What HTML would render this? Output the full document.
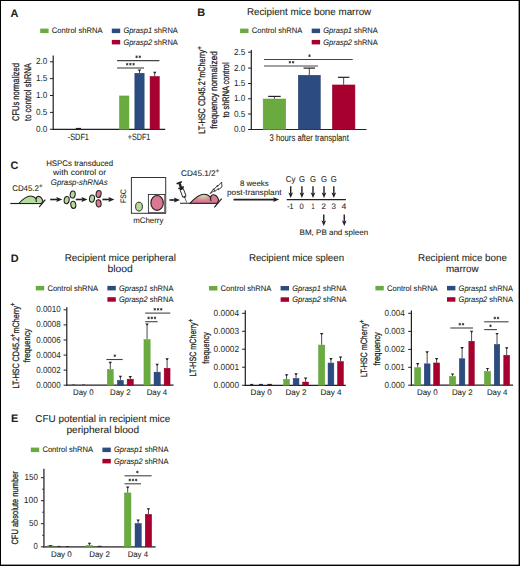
<!DOCTYPE html>
<html><head><meta charset="utf-8"><style>
html,body{margin:0;padding:0;background:#fff;}
svg{display:block;font-family:"Liberation Sans", sans-serif;text-rendering:geometricPrecision;}
text{stroke:#231f20;stroke-width:0.08px;}
.y{stroke-width:0.28px;}
.n{stroke:none;}
</style></head><body>
<svg width="520" height="566" viewBox="0 0 520 566" fill="#231f20">
<rect width="520" height="566" fill="#000"/>
<rect x="1" y="1" width="517.6" height="563.6" fill="#fff"/>
<text x="10.40" y="17.00" font-size="10.9" font-weight="bold" >A</text>
<rect x="40.20" y="28.60" width="8.40" height="4.50" fill="#6aab3f"/>
<text x="51.80" y="33.20" font-size="8.0" textLength="50.70" lengthAdjust="spacingAndGlyphs" >Control shRNA</text>
<rect x="111.80" y="28.60" width="8.40" height="4.50" fill="#2c4b80"/>
<text x="123.40" y="33.20" font-size="8.0" textLength="54.40" lengthAdjust="spacingAndGlyphs" ><tspan font-style="italic">Gprasp1</tspan> shRNA</text>
<rect x="111.80" y="39.90" width="8.40" height="4.50" fill="#a8002e"/>
<text x="123.40" y="44.50" font-size="8.0" textLength="54.40" lengthAdjust="spacingAndGlyphs" ><tspan font-style="italic">Gprasp2</tspan> shRNA</text>
<line x1="53.20" y1="55.40" x2="53.20" y2="129.90" stroke="#231f20" stroke-width="1.2"/>
<line x1="52.60" y1="129.30" x2="165.20" y2="129.30" stroke="#231f20" stroke-width="1.2"/>
<line x1="50.00" y1="61.80" x2="53.20" y2="61.80" stroke="#231f20" stroke-width="1.0"/>
<text x="47.40" y="64.35" font-size="8.8" text-anchor="end" textLength="11.40" lengthAdjust="spacingAndGlyphs" class="n">2.0</text>
<line x1="50.00" y1="78.60" x2="53.20" y2="78.60" stroke="#231f20" stroke-width="1.0"/>
<text x="47.40" y="81.15" font-size="8.8" text-anchor="end" textLength="11.40" lengthAdjust="spacingAndGlyphs" class="n">1.5</text>
<line x1="50.00" y1="95.50" x2="53.20" y2="95.50" stroke="#231f20" stroke-width="1.0"/>
<text x="47.40" y="98.05" font-size="8.8" text-anchor="end" textLength="11.40" lengthAdjust="spacingAndGlyphs" class="n">1.0</text>
<line x1="50.00" y1="112.40" x2="53.20" y2="112.40" stroke="#231f20" stroke-width="1.0"/>
<text x="47.40" y="114.95" font-size="8.8" text-anchor="end" textLength="11.40" lengthAdjust="spacingAndGlyphs" class="n">0.5</text>
<line x1="50.00" y1="129.30" x2="53.20" y2="129.30" stroke="#231f20" stroke-width="1.0"/>
<text x="47.40" y="131.85" font-size="8.8" text-anchor="end" textLength="11.40" lengthAdjust="spacingAndGlyphs" class="n">0.0</text>
<text x="18.70" y="92.00" font-size="9.7" text-anchor="middle" textLength="57.80" lengthAdjust="spacingAndGlyphs" transform="rotate(-90 18.70 92.00)" class="y">CFUs normalized</text>
<text x="30.80" y="92.00" font-size="9.7" text-anchor="middle" textLength="58.00" lengthAdjust="spacingAndGlyphs" transform="rotate(-90 30.80 92.00)" class="y">to control shRNA</text>
<rect x="119.45" y="95.95" width="9.50" height="33.35" fill="#6aab3f" stroke="#5f9e36" stroke-width="0.5"/>
<line x1="139.50" y1="70.10" x2="139.50" y2="73.00" stroke="#4a4a4a" stroke-width="1.0"/>
<path d="M137.80,69.50 L141.20,69.50 L140.00,71.20 L139.00,71.20 Z" fill="#231f20"/>
<rect x="134.85" y="73.25" width="9.30" height="56.05" fill="#2c4b80" stroke="#223f72" stroke-width="0.5"/>
<line x1="154.70" y1="72.40" x2="154.70" y2="76.20" stroke="#4a4a4a" stroke-width="1.0"/>
<path d="M153.00,71.80 L156.40,71.80 L155.20,73.50 L154.20,73.50 Z" fill="#231f20"/>
<rect x="150.05" y="76.45" width="9.30" height="52.85" fill="#a8002e" stroke="#960029" stroke-width="0.5"/>
<rect x="75.80" y="127.90" width="5.20" height="1.40" fill="#231f20"/>
<line x1="117.10" y1="60.60" x2="159.40" y2="60.60" stroke="#444" stroke-width="1.1"/>
<path d="M136.60,55.50L136.60,58.10M135.47,56.15L137.73,57.45M137.73,56.15L135.47,57.45" stroke="#2a2a2a" stroke-width="0.8" fill="none"/>
<path d="M139.80,55.50L139.80,58.10M138.67,56.15L140.93,57.45M140.93,56.15L138.67,57.45" stroke="#2a2a2a" stroke-width="0.8" fill="none"/>
<line x1="117.10" y1="68.00" x2="144.00" y2="68.00" stroke="#444" stroke-width="1.1"/>
<path d="M127.20,62.90L127.20,65.50M126.07,63.55L128.33,64.85M128.33,63.55L126.07,64.85" stroke="#2a2a2a" stroke-width="0.8" fill="none"/>
<path d="M130.40,62.90L130.40,65.50M129.27,63.55L131.53,64.85M131.53,63.55L129.27,64.85" stroke="#2a2a2a" stroke-width="0.8" fill="none"/>
<path d="M133.60,62.90L133.60,65.50M132.47,63.55L134.73,64.85M134.73,63.55L132.47,64.85" stroke="#2a2a2a" stroke-width="0.8" fill="none"/>
<text x="67.75" y="139.70" font-size="9.2" textLength="21.20" lengthAdjust="spacingAndGlyphs" >-SDF1</text>
<text x="127.70" y="139.70" font-size="9.2" textLength="22.70" lengthAdjust="spacingAndGlyphs" >+SDF1</text>
<text x="197.30" y="15.80" font-size="10.9" font-weight="bold" >B</text>
<text x="246.90" y="14.90" font-size="9.9" textLength="124.30" lengthAdjust="spacingAndGlyphs" >Recipient mice bone marrow</text>
<rect x="240.10" y="28.60" width="8.40" height="4.50" fill="#6aab3f"/>
<text x="251.70" y="33.20" font-size="8.0" textLength="50.70" lengthAdjust="spacingAndGlyphs" >Control shRNA</text>
<rect x="311.70" y="28.60" width="8.40" height="4.50" fill="#2c4b80"/>
<text x="323.30" y="33.20" font-size="8.0" textLength="54.40" lengthAdjust="spacingAndGlyphs" ><tspan font-style="italic">Gprasp1</tspan> shRNA</text>
<rect x="311.70" y="39.90" width="8.40" height="4.50" fill="#a8002e"/>
<text x="323.30" y="44.50" font-size="8.0" textLength="54.40" lengthAdjust="spacingAndGlyphs" ><tspan font-style="italic">Gprasp2</tspan> shRNA</text>
<line x1="251.30" y1="50.10" x2="251.30" y2="130.10" stroke="#231f20" stroke-width="1.2"/>
<line x1="250.70" y1="129.50" x2="366.50" y2="129.50" stroke="#231f20" stroke-width="1.2"/>
<line x1="248.10" y1="52.20" x2="251.30" y2="52.20" stroke="#231f20" stroke-width="1.0"/>
<text x="245.40" y="54.75" font-size="8.8" text-anchor="end" textLength="11.40" lengthAdjust="spacingAndGlyphs" class="n">2.5</text>
<line x1="248.10" y1="68.10" x2="251.30" y2="68.10" stroke="#231f20" stroke-width="1.0"/>
<text x="245.40" y="70.65" font-size="8.8" text-anchor="end" textLength="11.40" lengthAdjust="spacingAndGlyphs" class="n">2.0</text>
<line x1="248.10" y1="83.50" x2="251.30" y2="83.50" stroke="#231f20" stroke-width="1.0"/>
<text x="245.40" y="86.05" font-size="8.8" text-anchor="end" textLength="11.40" lengthAdjust="spacingAndGlyphs" class="n">1.5</text>
<line x1="248.10" y1="98.75" x2="251.30" y2="98.75" stroke="#231f20" stroke-width="1.0"/>
<text x="245.40" y="101.30" font-size="8.8" text-anchor="end" textLength="11.40" lengthAdjust="spacingAndGlyphs" class="n">1.0</text>
<line x1="248.10" y1="114.00" x2="251.30" y2="114.00" stroke="#231f20" stroke-width="1.0"/>
<text x="245.40" y="116.55" font-size="8.8" text-anchor="end" textLength="11.40" lengthAdjust="spacingAndGlyphs" class="n">0.5</text>
<line x1="248.10" y1="129.50" x2="251.30" y2="129.50" stroke="#231f20" stroke-width="1.0"/>
<text x="245.40" y="132.05" font-size="8.8" text-anchor="end" textLength="11.40" lengthAdjust="spacingAndGlyphs" class="n">0.0</text>
<text x="205.00" y="90.00" font-size="9.5" text-anchor="middle" textLength="87.30" lengthAdjust="spacingAndGlyphs" transform="rotate(-90 205.00 90.00)" class="y">LT-HSC CD45.2<tspan font-size="7.6" dy="-3.4">+</tspan><tspan dy="3.4">mCherry</tspan><tspan font-size="7.6" dy="-3.4">+</tspan></text>
<text x="216.70" y="90.00" font-size="9.5" text-anchor="middle" textLength="77.30" lengthAdjust="spacingAndGlyphs" transform="rotate(-90 216.70 90.00)" class="y">frequency normalized</text>
<text x="228.80" y="90.00" font-size="9.5" text-anchor="middle" textLength="55.20" lengthAdjust="spacingAndGlyphs" transform="rotate(-90 228.80 90.00)" class="y">to shRNA control</text>
<line x1="274.45" y1="96.40" x2="274.45" y2="98.75" stroke="#4a4a4a" stroke-width="1.0"/>
<line x1="268.20" y1="96.40" x2="280.70" y2="96.40" stroke="#231f20" stroke-width="1.2"/>
<rect x="263.15" y="99.00" width="22.60" height="30.50" fill="#6aab3f" stroke="#5f9e36" stroke-width="0.5"/>
<line x1="309.30" y1="68.10" x2="309.30" y2="75.00" stroke="#4a4a4a" stroke-width="1.0"/>
<line x1="303.55" y1="68.10" x2="315.05" y2="68.10" stroke="#231f20" stroke-width="1.2"/>
<rect x="298.25" y="75.25" width="22.10" height="54.25" fill="#2c4b80" stroke="#223f72" stroke-width="0.5"/>
<line x1="343.65" y1="77.30" x2="343.65" y2="84.70" stroke="#4a4a4a" stroke-width="1.0"/>
<line x1="337.90" y1="77.30" x2="349.40" y2="77.30" stroke="#231f20" stroke-width="1.2"/>
<rect x="332.35" y="84.95" width="22.60" height="44.55" fill="#a8002e" stroke="#960029" stroke-width="0.5"/>
<line x1="264.00" y1="59.50" x2="352.70" y2="59.50" stroke="#444" stroke-width="1.1"/>
<path d="M309.50,54.40L309.50,57.00M308.37,55.05L310.63,56.35M310.63,55.05L308.37,56.35" stroke="#2a2a2a" stroke-width="0.8" fill="none"/>
<line x1="264.00" y1="66.00" x2="318.00" y2="66.00" stroke="#444" stroke-width="1.1"/>
<path d="M289.90,60.90L289.90,63.50M288.77,61.55L291.03,62.85M291.03,61.55L288.77,62.85" stroke="#2a2a2a" stroke-width="0.8" fill="none"/>
<path d="M293.10,60.90L293.10,63.50M291.97,61.55L294.23,62.85M294.23,61.55L291.97,62.85" stroke="#2a2a2a" stroke-width="0.8" fill="none"/>
<text x="269.60" y="140.80" font-size="9.8" textLength="79.20" lengthAdjust="spacingAndGlyphs" >3 hours after transplant</text>
<text x="10.40" y="168.60" font-size="10.9" font-weight="bold" >C</text>
<text x="46.20" y="165.80" font-size="8.1" textLength="66.90" lengthAdjust="spacingAndGlyphs" >HSPCs transduced</text>
<text x="53.10" y="175.10" font-size="8.1" textLength="53.10" lengthAdjust="spacingAndGlyphs" >with control or</text>
<text x="50.80" y="184.60" font-size="8.1" textLength="56.90" lengthAdjust="spacingAndGlyphs" ><tspan font-style="italic">Gprasp-shRNAs</tspan></text>
<text x="12.20" y="191.30" font-size="8.1" textLength="30.40" lengthAdjust="spacingAndGlyphs" >CD45.2<tspan font-size="6.4" dy="-3.2">+</tspan></text>
<g transform="translate(18.8 203.5) scale(0.84)"><line x1="-10.1" y1="0" x2="27.2" y2="0" stroke="#231f20" stroke-width="1.37"/><path d="M0,0 C4,-4.5 9,-9 14.2,-9 C17.2,-9 19.2,-7.4 20.6,-5.8 C20.9,-7.8 22.2,-8.6 23.5,-8.5 C25.3,-8.3 26.6,-7.4 27.2,-6.2 L28.6,-3.3 L27.2,0 Z" fill="#b5dc9e" stroke="#231f20" stroke-width="1.31" stroke-linejoin="round"/><path d="M20.6,-5.8 C20.4,-4.6 20.5,-3.4 20.9,-2.4" fill="none" stroke="#231f20" stroke-width="1.31" stroke-linecap="round"/><line x1="24.2" y1="4.2" x2="31.6" y2="-4.6" stroke="#231f20" stroke-width="1.43"/></g>
<line x1="50.20" y1="199.50" x2="57.30" y2="199.50" stroke="#231f20" stroke-width="1.6"/>
<path d="M62.30,199.50 L56.30,197.00 L57.20,199.50 L56.30,202.00 Z" fill="#231f20"/>
<ellipse cx="66.7" cy="200.1" rx="2.5" ry="3.6" fill="#b5dc9e" stroke="#231f20" stroke-width="1.05" transform="rotate(8 66.7 200.1)"/>
<ellipse cx="72.7" cy="194.5" rx="2.5" ry="3.6" fill="#b5dc9e" stroke="#231f20" stroke-width="1.05" transform="rotate(8 72.7 194.5)"/>
<ellipse cx="73.3" cy="204.8" rx="2.5" ry="3.6" fill="#b5dc9e" stroke="#231f20" stroke-width="1.05" transform="rotate(-8 73.3 204.8)"/>
<line x1="75.80" y1="199.50" x2="82.50" y2="199.50" stroke="#231f20" stroke-width="1.6"/>
<path d="M87.50,199.50 L81.50,197.00 L82.40,199.50 L81.50,202.00 Z" fill="#231f20"/>
<ellipse cx="92" cy="198.6" rx="2.5" ry="3.6" fill="#b5dc9e" stroke="#231f20" stroke-width="1.05" transform="rotate(8 92 198.6)"/>
<ellipse cx="98.6" cy="194" rx="2.5" ry="3.6" fill="#d97890" stroke="#231f20" stroke-width="1.05" transform="rotate(8 98.6 194)"/>
<ellipse cx="98.6" cy="203.4" rx="2.5" ry="3.6" fill="#d97890" stroke="#231f20" stroke-width="1.05" transform="rotate(-8 98.6 203.4)"/>
<line x1="102.40" y1="199.50" x2="109.40" y2="199.50" stroke="#231f20" stroke-width="1.6"/>
<path d="M114.40,199.50 L108.40,197.00 L109.30,199.50 L108.40,202.00 Z" fill="#231f20"/>
<text x="126.40" y="196.10" font-size="8.0" text-anchor="middle" textLength="13.60" lengthAdjust="spacingAndGlyphs" transform="rotate(-90 126.40 196.10)" >FSC</text>
<rect x="131.4" y="177.5" width="34.3" height="35.8" fill="#fff" stroke="#333" stroke-width="1"/>
<rect x="148.4" y="194.5" width="16.4" height="18.2" fill="#fff" stroke="#333" stroke-width="0.9"/>
<line x1="164.9" y1="195" x2="164.9" y2="213" stroke="#888" stroke-width="1"/>
<ellipse cx="157.1" cy="202.9" rx="6.2" ry="7.4" fill="#d97890" stroke="#231f20" stroke-width="1.15"/>
<ellipse cx="139" cy="206.6" rx="3.4" ry="4.4" fill="#b5dc9e" stroke="#231f20" stroke-width="0.95"/>
<text x="133.20" y="223.20" font-size="8.0" textLength="30.20" lengthAdjust="spacingAndGlyphs" >mCherry</text>
<line x1="169.40" y1="200.00" x2="175.00" y2="200.00" stroke="#231f20" stroke-width="1.6"/>
<path d="M180.00,200.00 L174.00,197.50 L174.90,200.00 L174.00,202.50 Z" fill="#231f20"/>
<text x="181.00" y="176.00" font-size="8.1" textLength="38.40" lengthAdjust="spacingAndGlyphs" >CD45.1/2<tspan font-size="6.4" dy="-3.2">+</tspan></text>
<g transform="translate(186.7 202.6) rotate(-20.6)"><line x1="0" y1="0" x2="0" y2="-5.4" stroke="#555" stroke-width="0.8"/><rect x="-0.9" y="-6.6" width="1.8" height="1.4" fill="#231f20"/><rect x="-1.75" y="-14.4" width="3.5" height="8" rx="0.6" fill="#fff" stroke="#231f20" stroke-width="0.9"/><rect x="-1.6" y="-16.2" width="3.2" height="2.2" fill="#231f20"/><rect x="-2.9" y="-16.6" width="5.8" height="1.5" fill="#231f20"/><rect x="-1.2" y="-20.8" width="2.4" height="4.4" fill="#231f20"/><rect x="-2.8" y="-22.0" width="5.6" height="1.6" fill="#231f20"/></g>
<defs><radialGradient id="mg" gradientUnits="userSpaceOnUse" cx="12.6" cy="-11" r="9.5" gradientTransform="translate(12.6 -11) scale(1.35 1) translate(-12.6 11)"><stop offset="0" stop-color="#c6dca4"/><stop offset="0.4" stop-color="#cfd3a2"/><stop offset="0.62" stop-color="#dbaea6"/><stop offset="0.85" stop-color="#d98699"/><stop offset="1" stop-color="#d77b92"/></radialGradient></defs>
<g transform="translate(190.1 203.2) scale(1.0)"><line x1="-10.1" y1="0" x2="27.2" y2="0" stroke="#231f20" stroke-width="1.15"/><path d="M0,0 C4,-4.5 9,-9 14.2,-9 C17.2,-9 19.2,-7.4 20.6,-5.8 C20.9,-7.8 22.2,-8.6 23.5,-8.5 C25.3,-8.3 26.6,-7.4 27.2,-6.2 L28.6,-3.3 L27.2,0 Z" fill="url(#mg)" stroke="#231f20" stroke-width="1.10" stroke-linejoin="round"/><path d="M20.6,-5.8 C20.4,-4.6 20.5,-3.4 20.9,-2.4" fill="none" stroke="#231f20" stroke-width="1.10" stroke-linecap="round"/><line x1="24.2" y1="4.2" x2="31.6" y2="-4.6" stroke="#231f20" stroke-width="1.20"/></g>
<path d="M210.2,193.6 L213.8,188.6 L213.6,190.0 L217.6,185.2 L217.4,186.6 L221.6,182.1 L222,186.8 L218.3,189.8 L218.5,188.4 L214.6,191.6 L214.9,190.2 Z" fill="#fff" stroke="#231f20" stroke-width="0.85" stroke-linejoin="round"/>
<text x="239.90" y="185.80" font-size="8.0" textLength="28.80" lengthAdjust="spacingAndGlyphs" >8 weeks</text>
<text x="227.00" y="194.60" font-size="8.0" textLength="54.60" lengthAdjust="spacingAndGlyphs" >post-transplant</text>
<line x1="233.50" y1="199.60" x2="274.20" y2="199.60" stroke="#231f20" stroke-width="1.6"/>
<path d="M279.20,199.60 L273.20,197.20 L274.10,199.60 L273.20,202.00 Z" fill="#231f20"/>
<line x1="286.70" y1="199.60" x2="345.90" y2="199.60" stroke="#231f20" stroke-width="1.1"/>
<text x="285.80" y="181.50" font-size="8.5" textLength="9.70" lengthAdjust="spacingAndGlyphs" >Cy</text>
<text x="301.90" y="181.50" font-size="8.5" text-anchor="middle" textLength="6.00" lengthAdjust="spacingAndGlyphs" >G</text>
<text x="313.00" y="181.50" font-size="8.5" text-anchor="middle" textLength="6.00" lengthAdjust="spacingAndGlyphs" >G</text>
<text x="324.00" y="181.50" font-size="8.5" text-anchor="middle" textLength="6.00" lengthAdjust="spacingAndGlyphs" >G</text>
<text x="333.80" y="181.50" font-size="8.5" text-anchor="middle" textLength="6.00" lengthAdjust="spacingAndGlyphs" >G</text>
<line x1="290.70" y1="186.20" x2="290.70" y2="193.50" stroke="#231f20" stroke-width="1.4"/>
<path d="M290.70,197.90 L288.40,192.50 L290.70,193.40 L293.00,192.50 Z" fill="#231f20"/>
<line x1="301.90" y1="186.20" x2="301.90" y2="193.50" stroke="#231f20" stroke-width="1.4"/>
<path d="M301.90,197.90 L299.60,192.50 L301.90,193.40 L304.20,192.50 Z" fill="#231f20"/>
<line x1="313.00" y1="186.20" x2="313.00" y2="193.50" stroke="#231f20" stroke-width="1.4"/>
<path d="M313.00,197.90 L310.70,192.50 L313.00,193.40 L315.30,192.50 Z" fill="#231f20"/>
<line x1="324.00" y1="186.20" x2="324.00" y2="193.50" stroke="#231f20" stroke-width="1.4"/>
<path d="M324.00,197.90 L321.70,192.50 L324.00,193.40 L326.30,192.50 Z" fill="#231f20"/>
<line x1="333.80" y1="186.20" x2="333.80" y2="193.50" stroke="#231f20" stroke-width="1.4"/>
<path d="M333.80,197.90 L331.50,192.50 L333.80,193.40 L336.10,192.50 Z" fill="#231f20"/>
<text x="290.30" y="209.10" font-size="7.9" text-anchor="middle" textLength="6.30" lengthAdjust="spacingAndGlyphs" >-1</text>
<text x="301.70" y="209.10" font-size="7.9" text-anchor="middle" textLength="4.20" lengthAdjust="spacingAndGlyphs" >0</text>
<text x="312.90" y="209.10" font-size="7.9" text-anchor="middle" textLength="3.00" lengthAdjust="spacingAndGlyphs" >1</text>
<text x="323.70" y="209.10" font-size="7.9" text-anchor="middle" textLength="4.40" lengthAdjust="spacingAndGlyphs" >2</text>
<text x="333.70" y="209.10" font-size="7.9" text-anchor="middle" textLength="4.40" lengthAdjust="spacingAndGlyphs" >3</text>
<text x="343.90" y="209.10" font-size="7.9" text-anchor="middle" textLength="4.80" lengthAdjust="spacingAndGlyphs" >4</text>
<line x1="323.75" y1="214.50" x2="323.75" y2="221.60" stroke="#231f20" stroke-width="1.4"/>
<path d="M323.75,226.00 L321.45,220.60 L323.75,221.50 L326.05,220.60 Z" fill="#231f20"/>
<line x1="344.25" y1="214.50" x2="344.25" y2="221.60" stroke="#231f20" stroke-width="1.4"/>
<path d="M344.25,226.00 L341.95,220.60 L344.25,221.50 L346.55,220.60 Z" fill="#231f20"/>
<text x="299.60" y="234.60" font-size="8.0" textLength="68.50" lengthAdjust="spacingAndGlyphs" >BM, PB and spleen</text>
<text x="10.80" y="262.20" font-size="10.9" font-weight="bold" >D</text>
<text x="64.70" y="260.60" font-size="9.9" textLength="111.30" lengthAdjust="spacingAndGlyphs" >Recipient mice peripheral</text>
<text x="107.50" y="271.60" font-size="9.9" textLength="25.20" lengthAdjust="spacingAndGlyphs" >blood</text>
<rect x="35.80" y="285.90" width="8.40" height="4.50" fill="#6aab3f"/>
<text x="47.40" y="290.50" font-size="8.0" textLength="50.70" lengthAdjust="spacingAndGlyphs" >Control shRNA</text>
<rect x="107.40" y="285.90" width="8.40" height="4.50" fill="#2c4b80"/>
<text x="119.00" y="290.50" font-size="8.0" textLength="54.40" lengthAdjust="spacingAndGlyphs" ><tspan font-style="italic">Gprasp1</tspan> shRNA</text>
<rect x="107.40" y="297.20" width="8.40" height="4.50" fill="#a8002e"/>
<text x="119.00" y="301.80" font-size="8.0" textLength="54.40" lengthAdjust="spacingAndGlyphs" ><tspan font-style="italic">Gprasp2</tspan> shRNA</text>
<line x1="66.80" y1="307.20" x2="66.80" y2="385.80" stroke="#231f20" stroke-width="1.2"/>
<line x1="66.20" y1="385.20" x2="173.60" y2="385.20" stroke="#231f20" stroke-width="1.2"/>
<line x1="63.60" y1="309.80" x2="66.80" y2="309.80" stroke="#231f20" stroke-width="1.0"/>
<text x="60.80" y="312.35" font-size="8.8" text-anchor="end" textLength="24.60" lengthAdjust="spacingAndGlyphs" class="n">0.0010</text>
<line x1="63.60" y1="324.90" x2="66.80" y2="324.90" stroke="#231f20" stroke-width="1.0"/>
<text x="60.80" y="327.45" font-size="8.8" text-anchor="end" textLength="24.60" lengthAdjust="spacingAndGlyphs" class="n">0.0008</text>
<line x1="63.60" y1="340.00" x2="66.80" y2="340.00" stroke="#231f20" stroke-width="1.0"/>
<text x="60.80" y="342.55" font-size="8.8" text-anchor="end" textLength="24.60" lengthAdjust="spacingAndGlyphs" class="n">0.0006</text>
<line x1="63.60" y1="355.10" x2="66.80" y2="355.10" stroke="#231f20" stroke-width="1.0"/>
<text x="60.80" y="357.65" font-size="8.8" text-anchor="end" textLength="24.60" lengthAdjust="spacingAndGlyphs" class="n">0.0004</text>
<line x1="63.60" y1="370.10" x2="66.80" y2="370.10" stroke="#231f20" stroke-width="1.0"/>
<text x="60.80" y="372.65" font-size="8.8" text-anchor="end" textLength="24.60" lengthAdjust="spacingAndGlyphs" class="n">0.0002</text>
<line x1="63.60" y1="385.20" x2="66.80" y2="385.20" stroke="#231f20" stroke-width="1.0"/>
<text x="60.80" y="387.75" font-size="8.8" text-anchor="end" textLength="24.60" lengthAdjust="spacingAndGlyphs" class="n">0.0000</text>
<text x="18.70" y="345.50" font-size="9.2" text-anchor="middle" textLength="86.00" lengthAdjust="spacingAndGlyphs" transform="rotate(-90 18.70 345.50)" class="y">LT-HSC CD45.2<tspan font-size="7.4" dy="-3.3">+</tspan><tspan dy="3.3">mCherry</tspan><tspan font-size="7.4" dy="-3.3">+</tspan></text>
<text x="30.20" y="345.50" font-size="9.2" text-anchor="middle" textLength="34.00" lengthAdjust="spacingAndGlyphs" transform="rotate(-90 30.20 345.50)" class="y">frequency</text>
<rect x="72.20" y="384.20" width="3.00" height="1.10" fill="#555"/>
<rect x="82.00" y="384.20" width="3.00" height="1.10" fill="#555"/>
<line x1="110.30" y1="362.40" x2="110.30" y2="369.20" stroke="#4a4a4a" stroke-width="1.0"/>
<path d="M108.60,361.80 L112.00,361.80 L110.80,363.50 L109.80,363.50 Z" fill="#231f20"/>
<rect x="107.35" y="369.45" width="5.90" height="15.75" fill="#6aab3f" stroke="#5f9e36" stroke-width="0.5"/>
<line x1="120.40" y1="376.40" x2="120.40" y2="380.10" stroke="#4a4a4a" stroke-width="1.0"/>
<path d="M118.70,375.80 L122.10,375.80 L120.90,377.50 L119.90,377.50 Z" fill="#231f20"/>
<rect x="117.45" y="380.35" width="5.90" height="4.85" fill="#2c4b80" stroke="#223f72" stroke-width="0.5"/>
<line x1="130.25" y1="376.70" x2="130.25" y2="378.90" stroke="#4a4a4a" stroke-width="1.0"/>
<path d="M128.55,376.10 L131.95,376.10 L130.75,377.80 L129.75,377.80 Z" fill="#231f20"/>
<rect x="127.15" y="379.15" width="6.20" height="6.05" fill="#a8002e" stroke="#960029" stroke-width="0.5"/>
<line x1="147.05" y1="324.20" x2="147.05" y2="339.40" stroke="#4a4a4a" stroke-width="1.0"/>
<path d="M145.35,323.60 L148.75,323.60 L147.55,325.30 L146.55,325.30 Z" fill="#231f20"/>
<rect x="143.95" y="339.65" width="6.20" height="45.55" fill="#6aab3f" stroke="#5f9e36" stroke-width="0.5"/>
<line x1="157.15" y1="364.30" x2="157.15" y2="371.90" stroke="#4a4a4a" stroke-width="1.0"/>
<path d="M155.45,363.70 L158.85,363.70 L157.65,365.40 L156.65,365.40 Z" fill="#231f20"/>
<rect x="154.05" y="372.15" width="6.20" height="13.05" fill="#2c4b80" stroke="#223f72" stroke-width="0.5"/>
<line x1="167.10" y1="358.80" x2="167.10" y2="368.00" stroke="#4a4a4a" stroke-width="1.0"/>
<path d="M165.40,358.20 L168.80,358.20 L167.60,359.90 L166.60,359.90 Z" fill="#231f20"/>
<rect x="164.15" y="368.25" width="5.90" height="16.95" fill="#a8002e" stroke="#960029" stroke-width="0.5"/>
<line x1="106.40" y1="359.50" x2="122.70" y2="359.50" stroke="#444" stroke-width="1.1"/>
<path d="M114.80,354.40L114.80,357.00M113.67,355.05L115.93,356.35M115.93,355.05L113.67,356.35" stroke="#2a2a2a" stroke-width="0.8" fill="none"/>
<line x1="145.20" y1="313.10" x2="170.30" y2="313.10" stroke="#444" stroke-width="1.1"/>
<path d="M154.80,308.00L154.80,310.60M153.67,308.65L155.93,309.95M155.93,308.65L153.67,309.95" stroke="#2a2a2a" stroke-width="0.8" fill="none"/>
<path d="M158.00,308.00L158.00,310.60M156.87,308.65L159.13,309.95M159.13,308.65L156.87,309.95" stroke="#2a2a2a" stroke-width="0.8" fill="none"/>
<path d="M161.20,308.00L161.20,310.60M160.07,308.65L162.33,309.95M162.33,308.65L160.07,309.95" stroke="#2a2a2a" stroke-width="0.8" fill="none"/>
<line x1="145.20" y1="321.70" x2="157.70" y2="321.70" stroke="#444" stroke-width="1.1"/>
<path d="M148.60,316.60L148.60,319.20M147.47,317.25L149.73,318.55M149.73,317.25L147.47,318.55" stroke="#2a2a2a" stroke-width="0.8" fill="none"/>
<path d="M151.80,316.60L151.80,319.20M150.67,317.25L152.93,318.55M152.93,317.25L150.67,318.55" stroke="#2a2a2a" stroke-width="0.8" fill="none"/>
<path d="M155.00,316.60L155.00,319.20M153.87,317.25L156.13,318.55M156.13,317.25L153.87,318.55" stroke="#2a2a2a" stroke-width="0.8" fill="none"/>
<text x="73.10" y="395.00" font-size="8.1" textLength="20.40" lengthAdjust="spacingAndGlyphs" >Day 0</text>
<text x="110.00" y="395.00" font-size="8.1" textLength="20.50" lengthAdjust="spacingAndGlyphs" >Day 2</text>
<text x="146.70" y="395.00" font-size="8.1" textLength="20.50" lengthAdjust="spacingAndGlyphs" >Day 4</text>
<text x="248.90" y="260.60" font-size="9.9" textLength="95.20" lengthAdjust="spacingAndGlyphs" >Recipient mice spleen</text>
<rect x="209.00" y="286.00" width="8.40" height="4.50" fill="#6aab3f"/>
<text x="220.60" y="290.60" font-size="8.0" textLength="50.70" lengthAdjust="spacingAndGlyphs" >Control shRNA</text>
<rect x="280.60" y="286.00" width="8.40" height="4.50" fill="#2c4b80"/>
<text x="292.20" y="290.60" font-size="8.0" textLength="54.40" lengthAdjust="spacingAndGlyphs" ><tspan font-style="italic">Gprasp1</tspan> shRNA</text>
<rect x="280.60" y="297.30" width="8.40" height="4.50" fill="#a8002e"/>
<text x="292.20" y="301.90" font-size="8.0" textLength="54.40" lengthAdjust="spacingAndGlyphs" ><tspan font-style="italic">Gprasp2</tspan> shRNA</text>
<line x1="245.30" y1="310.30" x2="245.30" y2="385.90" stroke="#231f20" stroke-width="1.2"/>
<line x1="244.70" y1="385.30" x2="345.80" y2="385.30" stroke="#231f20" stroke-width="1.2"/>
<line x1="242.10" y1="313.30" x2="245.30" y2="313.30" stroke="#231f20" stroke-width="1.0"/>
<text x="239.00" y="315.85" font-size="8.8" text-anchor="end" textLength="25.40" lengthAdjust="spacingAndGlyphs" class="n">0.0004</text>
<line x1="242.10" y1="331.30" x2="245.30" y2="331.30" stroke="#231f20" stroke-width="1.0"/>
<text x="239.00" y="333.85" font-size="8.8" text-anchor="end" textLength="25.40" lengthAdjust="spacingAndGlyphs" class="n">0.0003</text>
<line x1="242.10" y1="349.20" x2="245.30" y2="349.20" stroke="#231f20" stroke-width="1.0"/>
<text x="239.00" y="351.75" font-size="8.8" text-anchor="end" textLength="25.40" lengthAdjust="spacingAndGlyphs" class="n">0.0002</text>
<line x1="242.10" y1="367.20" x2="245.30" y2="367.20" stroke="#231f20" stroke-width="1.0"/>
<text x="239.00" y="369.75" font-size="8.8" text-anchor="end" textLength="25.40" lengthAdjust="spacingAndGlyphs" class="n">0.0001</text>
<line x1="242.10" y1="385.30" x2="245.30" y2="385.30" stroke="#231f20" stroke-width="1.0"/>
<text x="239.00" y="387.85" font-size="8.8" text-anchor="end" textLength="25.40" lengthAdjust="spacingAndGlyphs" class="n">0.0000</text>
<text x="196.50" y="347.70" font-size="9.2" text-anchor="middle" textLength="57.50" lengthAdjust="spacingAndGlyphs" transform="rotate(-90 196.50 347.70)" class="y">LT-HSC mCherry<tspan font-size="7.4" dy="-3.3">+</tspan></text>
<text x="209.10" y="348.00" font-size="9.2" text-anchor="middle" textLength="31.70" lengthAdjust="spacingAndGlyphs" transform="rotate(-90 209.10 348.00)" class="y">frequency</text>
<rect x="250.20" y="383.90" width="3.00" height="1.60" fill="#231f20"/>
<rect x="258.90" y="383.90" width="4.10" height="1.60" fill="#1f2f4f"/>
<rect x="267.40" y="383.90" width="4.40" height="1.60" fill="#3a1a22"/>
<line x1="286.55" y1="374.80" x2="286.55" y2="379.10" stroke="#4a4a4a" stroke-width="1.0"/>
<path d="M284.85,374.20 L288.25,374.20 L287.05,375.90 L286.05,375.90 Z" fill="#231f20"/>
<rect x="283.65" y="379.35" width="5.80" height="5.95" fill="#6aab3f" stroke="#5f9e36" stroke-width="0.5"/>
<line x1="296.05" y1="373.80" x2="296.05" y2="378.20" stroke="#4a4a4a" stroke-width="1.0"/>
<path d="M294.35,373.20 L297.75,373.20 L296.55,374.90 L295.55,374.90 Z" fill="#231f20"/>
<rect x="293.15" y="378.45" width="5.80" height="6.85" fill="#2c4b80" stroke="#223f72" stroke-width="0.5"/>
<line x1="305.60" y1="378.20" x2="305.60" y2="381.80" stroke="#4a4a4a" stroke-width="1.0"/>
<path d="M303.90,377.60 L307.30,377.60 L306.10,379.30 L305.10,379.30 Z" fill="#231f20"/>
<rect x="302.65" y="382.05" width="5.90" height="3.25" fill="#a8002e" stroke="#960029" stroke-width="0.5"/>
<line x1="321.65" y1="333.60" x2="321.65" y2="344.80" stroke="#4a4a4a" stroke-width="1.0"/>
<path d="M319.95,333.00 L323.35,333.00 L322.15,334.70 L321.15,334.70 Z" fill="#231f20"/>
<rect x="318.55" y="345.05" width="6.20" height="40.25" fill="#6aab3f" stroke="#5f9e36" stroke-width="0.5"/>
<line x1="330.95" y1="358.60" x2="330.95" y2="362.80" stroke="#4a4a4a" stroke-width="1.0"/>
<path d="M329.25,358.00 L332.65,358.00 L331.45,359.70 L330.45,359.70 Z" fill="#231f20"/>
<rect x="328.05" y="363.05" width="5.80" height="22.25" fill="#2c4b80" stroke="#223f72" stroke-width="0.5"/>
<line x1="340.50" y1="357.10" x2="340.50" y2="361.30" stroke="#4a4a4a" stroke-width="1.0"/>
<path d="M338.80,356.50 L342.20,356.50 L341.00,358.20 L340.00,358.20 Z" fill="#231f20"/>
<rect x="337.55" y="361.55" width="5.90" height="23.75" fill="#a8002e" stroke="#960029" stroke-width="0.5"/>
<text x="250.60" y="394.70" font-size="8.1" textLength="21.10" lengthAdjust="spacingAndGlyphs" >Day 0</text>
<text x="285.50" y="394.70" font-size="8.1" textLength="21.10" lengthAdjust="spacingAndGlyphs" >Day 2</text>
<text x="320.40" y="394.70" font-size="8.1" textLength="21.10" lengthAdjust="spacingAndGlyphs" >Day 4</text>
<text x="418.10" y="260.60" font-size="9.9" textLength="88.80" lengthAdjust="spacingAndGlyphs" >Recipient mice bone</text>
<text x="445.90" y="271.60" font-size="9.9" textLength="32.80" lengthAdjust="spacingAndGlyphs" >marrow</text>
<rect x="375.40" y="285.90" width="8.40" height="4.50" fill="#6aab3f"/>
<text x="387.00" y="290.50" font-size="8.0" textLength="50.70" lengthAdjust="spacingAndGlyphs" >Control shRNA</text>
<rect x="447.00" y="285.90" width="8.40" height="4.50" fill="#2c4b80"/>
<text x="458.60" y="290.50" font-size="8.0" textLength="54.40" lengthAdjust="spacingAndGlyphs" ><tspan font-style="italic">Gprasp1</tspan> shRNA</text>
<rect x="447.00" y="297.20" width="8.40" height="4.50" fill="#a8002e"/>
<text x="458.60" y="301.80" font-size="8.0" textLength="54.40" lengthAdjust="spacingAndGlyphs" ><tspan font-style="italic">Gprasp2</tspan> shRNA</text>
<line x1="411.40" y1="310.50" x2="411.40" y2="385.80" stroke="#231f20" stroke-width="1.2"/>
<line x1="410.80" y1="385.20" x2="513.10" y2="385.20" stroke="#231f20" stroke-width="1.2"/>
<line x1="408.20" y1="313.30" x2="411.40" y2="313.30" stroke="#231f20" stroke-width="1.0"/>
<text x="404.80" y="315.85" font-size="8.8" text-anchor="end" textLength="20.30" lengthAdjust="spacingAndGlyphs" class="n">0.004</text>
<line x1="408.20" y1="331.40" x2="411.40" y2="331.40" stroke="#231f20" stroke-width="1.0"/>
<text x="404.80" y="333.95" font-size="8.8" text-anchor="end" textLength="20.30" lengthAdjust="spacingAndGlyphs" class="n">0.003</text>
<line x1="408.20" y1="349.40" x2="411.40" y2="349.40" stroke="#231f20" stroke-width="1.0"/>
<text x="404.80" y="351.95" font-size="8.8" text-anchor="end" textLength="20.30" lengthAdjust="spacingAndGlyphs" class="n">0.002</text>
<line x1="408.20" y1="367.30" x2="411.40" y2="367.30" stroke="#231f20" stroke-width="1.0"/>
<text x="404.80" y="369.85" font-size="8.8" text-anchor="end" textLength="20.30" lengthAdjust="spacingAndGlyphs" class="n">0.001</text>
<line x1="408.20" y1="385.20" x2="411.40" y2="385.20" stroke="#231f20" stroke-width="1.0"/>
<text x="404.80" y="387.75" font-size="8.8" text-anchor="end" textLength="20.30" lengthAdjust="spacingAndGlyphs" class="n">0.000</text>
<text x="367.40" y="348.30" font-size="9.2" text-anchor="middle" textLength="57.50" lengthAdjust="spacingAndGlyphs" transform="rotate(-90 367.40 348.30)" class="y">LT-HSC mCherry<tspan font-size="7.4" dy="-3.3">+</tspan></text>
<text x="379.70" y="348.90" font-size="9.2" text-anchor="middle" textLength="33.40" lengthAdjust="spacingAndGlyphs" transform="rotate(-90 379.70 348.90)" class="y">frequency</text>
<line x1="417.70" y1="363.60" x2="417.70" y2="367.50" stroke="#4a4a4a" stroke-width="1.0"/>
<path d="M416.00,363.00 L419.40,363.00 L418.20,364.70 L417.20,364.70 Z" fill="#231f20"/>
<rect x="414.65" y="367.75" width="6.10" height="17.45" fill="#6aab3f" stroke="#5f9e36" stroke-width="0.5"/>
<line x1="427.15" y1="351.80" x2="427.15" y2="363.60" stroke="#4a4a4a" stroke-width="1.0"/>
<path d="M425.45,351.20 L428.85,351.20 L427.65,352.90 L426.65,352.90 Z" fill="#231f20"/>
<rect x="424.25" y="363.85" width="5.80" height="21.35" fill="#2c4b80" stroke="#223f72" stroke-width="0.5"/>
<line x1="436.60" y1="358.70" x2="436.60" y2="362.70" stroke="#4a4a4a" stroke-width="1.0"/>
<path d="M434.90,358.10 L438.30,358.10 L437.10,359.80 L436.10,359.80 Z" fill="#231f20"/>
<rect x="433.55" y="362.95" width="6.10" height="22.25" fill="#a8002e" stroke="#960029" stroke-width="0.5"/>
<line x1="452.55" y1="374.00" x2="452.55" y2="376.20" stroke="#4a4a4a" stroke-width="1.0"/>
<path d="M450.85,373.40 L454.25,373.40 L453.05,375.10 L452.05,375.10 Z" fill="#231f20"/>
<rect x="449.45" y="376.45" width="6.20" height="8.75" fill="#6aab3f" stroke="#5f9e36" stroke-width="0.5"/>
<line x1="462.10" y1="347.60" x2="462.10" y2="358.50" stroke="#4a4a4a" stroke-width="1.0"/>
<path d="M460.40,347.00 L463.80,347.00 L462.60,348.70 L461.60,348.70 Z" fill="#231f20"/>
<rect x="459.35" y="358.75" width="5.50" height="26.45" fill="#2c4b80" stroke="#223f72" stroke-width="0.5"/>
<line x1="471.60" y1="331.40" x2="471.60" y2="341.00" stroke="#4a4a4a" stroke-width="1.0"/>
<path d="M469.90,330.80 L473.30,330.80 L472.10,332.50 L471.10,332.50 Z" fill="#231f20"/>
<rect x="468.85" y="341.25" width="5.50" height="43.95" fill="#a8002e" stroke="#960029" stroke-width="0.5"/>
<line x1="487.50" y1="368.50" x2="487.50" y2="371.20" stroke="#4a4a4a" stroke-width="1.0"/>
<path d="M485.80,367.90 L489.20,367.90 L488.00,369.60 L487.00,369.60 Z" fill="#231f20"/>
<rect x="484.45" y="371.45" width="6.10" height="13.75" fill="#6aab3f" stroke="#5f9e36" stroke-width="0.5"/>
<line x1="497.00" y1="333.50" x2="497.00" y2="344.20" stroke="#4a4a4a" stroke-width="1.0"/>
<path d="M495.30,332.90 L498.70,332.90 L497.50,334.60 L496.50,334.60 Z" fill="#231f20"/>
<rect x="494.25" y="344.45" width="5.50" height="40.75" fill="#2c4b80" stroke="#223f72" stroke-width="0.5"/>
<line x1="506.70" y1="347.80" x2="506.70" y2="355.00" stroke="#4a4a4a" stroke-width="1.0"/>
<path d="M505.00,347.20 L508.40,347.20 L507.20,348.90 L506.20,348.90 Z" fill="#231f20"/>
<rect x="503.75" y="355.25" width="5.90" height="29.95" fill="#a8002e" stroke="#960029" stroke-width="0.5"/>
<line x1="450.30" y1="328.00" x2="473.00" y2="328.00" stroke="#444" stroke-width="1.1"/>
<path d="M459.80,322.90L459.80,325.50M458.67,323.55L460.93,324.85M460.93,323.55L458.67,324.85" stroke="#2a2a2a" stroke-width="0.8" fill="none"/>
<path d="M463.00,322.90L463.00,325.50M461.87,323.55L464.13,324.85M464.13,323.55L461.87,324.85" stroke="#2a2a2a" stroke-width="0.8" fill="none"/>
<line x1="484.20" y1="321.80" x2="508.60" y2="321.80" stroke="#444" stroke-width="1.1"/>
<path d="M494.80,316.70L494.80,319.30M493.67,317.35L495.93,318.65M495.93,317.35L493.67,318.65" stroke="#2a2a2a" stroke-width="0.8" fill="none"/>
<path d="M498.00,316.70L498.00,319.30M496.87,317.35L499.13,318.65M499.13,317.35L496.87,318.65" stroke="#2a2a2a" stroke-width="0.8" fill="none"/>
<line x1="484.20" y1="329.60" x2="496.90" y2="329.60" stroke="#444" stroke-width="1.1"/>
<path d="M490.50,324.50L490.50,327.10M489.37,325.15L491.63,326.45M491.63,325.15L489.37,326.45" stroke="#2a2a2a" stroke-width="0.8" fill="none"/>
<text x="416.90" y="395.20" font-size="8.1" textLength="20.80" lengthAdjust="spacingAndGlyphs" >Day 0</text>
<text x="451.90" y="395.20" font-size="8.1" textLength="20.70" lengthAdjust="spacingAndGlyphs" >Day 2</text>
<text x="486.90" y="395.20" font-size="8.1" textLength="20.60" lengthAdjust="spacingAndGlyphs" >Day 4</text>
<text x="10.90" y="422.20" font-size="10.9" font-weight="bold" >E</text>
<text x="35.30" y="421.70" font-size="9.9" textLength="135.00" lengthAdjust="spacingAndGlyphs" >CFU potential in recipient mice</text>
<text x="66.40" y="433.30" font-size="9.9" textLength="72.70" lengthAdjust="spacingAndGlyphs" >peripheral blood</text>
<rect x="30.80" y="447.60" width="8.40" height="4.50" fill="#6aab3f"/>
<text x="42.40" y="452.20" font-size="8.0" textLength="50.70" lengthAdjust="spacingAndGlyphs" >Control shRNA</text>
<rect x="102.40" y="447.60" width="8.40" height="4.50" fill="#2c4b80"/>
<text x="114.00" y="452.20" font-size="8.0" textLength="54.40" lengthAdjust="spacingAndGlyphs" ><tspan font-style="italic">Gprasp1</tspan> shRNA</text>
<rect x="102.40" y="458.90" width="8.40" height="4.50" fill="#a8002e"/>
<text x="114.00" y="463.50" font-size="8.0" textLength="54.40" lengthAdjust="spacingAndGlyphs" ><tspan font-style="italic">Gprasp2</tspan> shRNA</text>
<line x1="43.90" y1="468.80" x2="43.90" y2="547.60" stroke="#5e5e5e" stroke-width="1.7"/>
<line x1="43.00" y1="546.90" x2="155.60" y2="546.90" stroke="#5e5e5e" stroke-width="1.6"/>
<line x1="40.90" y1="477.70" x2="43.90" y2="477.70" stroke="#231f20" stroke-width="1.0"/>
<text x="37.90" y="480.25" font-size="8.8" text-anchor="end" textLength="13.50" lengthAdjust="spacingAndGlyphs" class="n">150</text>
<line x1="40.90" y1="500.70" x2="43.90" y2="500.70" stroke="#231f20" stroke-width="1.0"/>
<text x="37.90" y="503.25" font-size="8.8" text-anchor="end" textLength="14.10" lengthAdjust="spacingAndGlyphs" class="n">100</text>
<line x1="40.90" y1="523.70" x2="43.90" y2="523.70" stroke="#231f20" stroke-width="1.0"/>
<text x="37.90" y="526.25" font-size="8.8" text-anchor="end" textLength="9.00" lengthAdjust="spacingAndGlyphs" class="n">50</text>
<line x1="40.90" y1="546.80" x2="43.90" y2="546.80" stroke="#231f20" stroke-width="1.0"/>
<text x="37.90" y="549.35" font-size="8.8" text-anchor="end" textLength="4.30" lengthAdjust="spacingAndGlyphs" class="n">0</text>
<line x1="42.20" y1="489.20" x2="43.90" y2="489.20" stroke="#231f20" stroke-width="0.9"/>
<line x1="42.20" y1="512.20" x2="43.90" y2="512.20" stroke="#231f20" stroke-width="0.9"/>
<line x1="42.20" y1="535.30" x2="43.90" y2="535.30" stroke="#231f20" stroke-width="0.9"/>
<text x="17.70" y="507.90" font-size="9.2" text-anchor="middle" textLength="73.30" lengthAdjust="spacingAndGlyphs" transform="rotate(-90 17.70 507.90)" class="y">CFU absolute number</text>
<rect x="47.50" y="545.40" width="6.10" height="1.00" fill="#6aab3f"/>
<rect x="49.00" y="545.20" width="2.90" height="1.10" fill="#231f20"/>
<rect x="57.50" y="545.90" width="3.00" height="0.90" fill="#231f20"/>
<rect x="66.00" y="546.00" width="3.00" height="0.80" fill="#231f20"/>
<line x1="89.45" y1="543.30" x2="89.45" y2="545.20" stroke="#4a4a4a" stroke-width="1.0"/>
<path d="M87.75,542.70 L91.15,542.70 L89.95,544.40 L88.95,544.40 Z" fill="#231f20"/>
<rect x="86.45" y="545.45" width="6.00" height="1.35" fill="#6aab3f" stroke="#5f9e36" stroke-width="0.5"/>
<rect x="97.70" y="545.80" width="3.90" height="1.00" fill="#231f20"/>
<line x1="127.70" y1="487.10" x2="127.70" y2="492.70" stroke="#4a4a4a" stroke-width="1.0"/>
<path d="M126.00,486.50 L129.40,486.50 L128.20,488.20 L127.20,488.20 Z" fill="#231f20"/>
<rect x="124.45" y="492.95" width="6.50" height="53.85" fill="#6aab3f" stroke="#5f9e36" stroke-width="0.5"/>
<line x1="138.15" y1="520.10" x2="138.15" y2="523.30" stroke="#4a4a4a" stroke-width="1.0"/>
<path d="M136.45,519.50 L139.85,519.50 L138.65,521.20 L137.65,521.20 Z" fill="#231f20"/>
<rect x="135.05" y="523.55" width="6.20" height="23.25" fill="#2c4b80" stroke="#223f72" stroke-width="0.5"/>
<line x1="148.45" y1="508.80" x2="148.45" y2="514.10" stroke="#4a4a4a" stroke-width="1.0"/>
<path d="M146.75,508.20 L150.15,508.20 L148.95,509.90 L147.95,509.90 Z" fill="#231f20"/>
<rect x="145.25" y="514.35" width="6.40" height="32.45" fill="#a8002e" stroke="#960029" stroke-width="0.5"/>
<line x1="124.50" y1="475.80" x2="151.60" y2="475.80" stroke="#444" stroke-width="1.1"/>
<path d="M137.40,470.70L137.40,473.30M136.27,471.35L138.53,472.65M138.53,471.35L136.27,472.65" stroke="#2a2a2a" stroke-width="0.8" fill="none"/>
<line x1="124.50" y1="483.80" x2="141.00" y2="483.80" stroke="#444" stroke-width="1.1"/>
<path d="M129.80,478.70L129.80,481.30M128.67,479.35L130.93,480.65M130.93,479.35L128.67,480.65" stroke="#2a2a2a" stroke-width="0.8" fill="none"/>
<path d="M133.00,478.70L133.00,481.30M131.87,479.35L134.13,480.65M134.13,479.35L131.87,480.65" stroke="#2a2a2a" stroke-width="0.8" fill="none"/>
<path d="M136.20,478.70L136.20,481.30M135.07,479.35L137.33,480.65M137.33,479.35L135.07,480.65" stroke="#2a2a2a" stroke-width="0.8" fill="none"/>
<text x="50.90" y="556.90" font-size="8.1" textLength="20.90" lengthAdjust="spacingAndGlyphs" >Day 0</text>
<text x="89.20" y="556.90" font-size="8.1" textLength="20.80" lengthAdjust="spacingAndGlyphs" >Day 2</text>
<text x="127.70" y="556.90" font-size="8.1" textLength="20.30" lengthAdjust="spacingAndGlyphs" >Day 4</text>
</svg></body></html>
